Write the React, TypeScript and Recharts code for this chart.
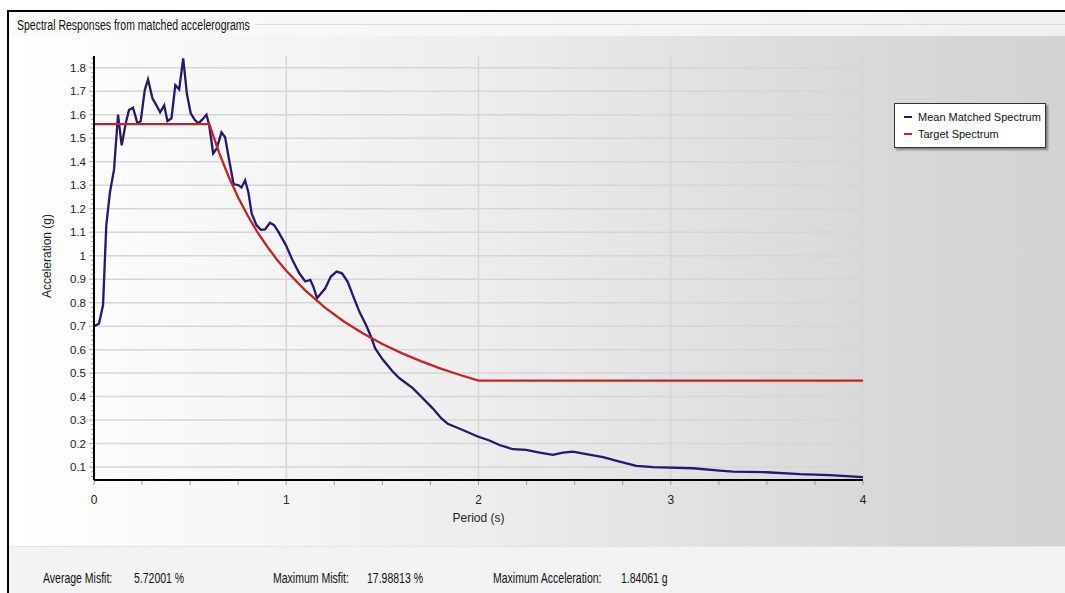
import { CartesianGrid, Legend, Line, LineChart, XAxis, YAxis } from "recharts";

// Mean matched spectrum
const matchedPeriods = [
  0, 0.026, 0.047, 0.064, 0.083, 0.104, 0.125, 0.144, 0.165, 0.182,
  0.203, 0.226, 0.243, 0.264, 0.281, 0.304, 0.325, 0.344, 0.365, 0.382,
  0.403, 0.423, 0.443, 0.464, 0.483, 0.503, 0.524, 0.543, 0.564, 0.585,
  0.599, 0.62, 0.639, 0.663, 0.682, 0.703, 0.726, 0.752, 0.767, 0.786,
  0.803, 0.82, 0.845, 0.868, 0.89, 0.915, 0.937, 0.96, 0.998, 1.033,
  1.068, 1.099, 1.125, 1.141, 1.16, 1.203, 1.232, 1.262, 1.29, 1.319,
  1.349, 1.38, 1.415, 1.441, 1.462, 1.5, 1.55, 1.589, 1.658, 1.71,
  1.762, 1.806, 1.84, 1.918, 1.996, 2.057, 2.109, 2.179, 2.248, 2.318,
  2.387, 2.439, 2.491, 2.561, 2.648, 2.734, 2.821, 2.908, 3.116, 3.255,
  3.325, 3.498, 3.672, 3.828, 4.0,
];
const matchedAccel = [
  0.7, 0.71, 0.79, 1.13, 1.27, 1.365, 1.6, 1.47, 1.563, 1.62,
  1.63, 1.563, 1.573, 1.705, 1.75, 1.67, 1.64, 1.61, 1.64, 1.573,
  1.585, 1.726, 1.708, 1.84, 1.69, 1.606, 1.578, 1.563, 1.58, 1.6,
  1.556, 1.435, 1.457, 1.525, 1.504, 1.407, 1.305, 1.3, 1.29, 1.32,
  1.27, 1.18, 1.13, 1.11, 1.112, 1.14, 1.13, 1.1, 1.045, 0.98,
  0.925, 0.89, 0.897, 0.868, 0.819, 0.861, 0.911, 0.932, 0.925, 0.89,
  0.826, 0.762, 0.705, 0.655, 0.606, 0.56, 0.51, 0.478, 0.436, 0.393,
  0.35, 0.308, 0.284, 0.258, 0.23, 0.213, 0.194, 0.176, 0.173, 0.162,
  0.152, 0.162, 0.166, 0.155, 0.142, 0.123, 0.105, 0.1, 0.095, 0.085,
  0.081, 0.078, 0.07, 0.066, 0.057,
];

// Target spectrum
const targetPeriods = [
  0, 0.6, 0.65, 0.7, 0.75, 0.8, 0.85, 0.9, 0.95, 1.0,
  1.1, 1.2, 1.3, 1.4, 1.5, 1.6, 1.7, 1.8, 1.9, 2.0, 4.0,
];
const targetAccel = [
  1.56, 1.56, 1.44, 1.337, 1.248, 1.17, 1.1, 1.04, 0.985, 0.936,
  0.851, 0.78, 0.72, 0.669, 0.624, 0.585, 0.551, 0.52, 0.493, 0.468, 0.468,
];

const seriesNames = ["Mean Matched Spectrum", "Target Spectrum"];
const xMajorTicks = [1, 2, 3, 4];
const yMajorTicks = [
  0.1, 0.2, 0.3, 0.4, 0.5, 0.6, 0.7, 0.8, 0.9, 1, 1.1, 1.2, 1.3, 1.4, 1.5,
  1.6, 1.7, 1.8,
];
const statLabels = ["Average Misfit:", "Maximum Misfit:", "Maximum Acceleration:"];
const statValues = ["5.72001 %", "17.98813 %", "1.84061 g"];

const BLUE = "#26176f";
const RED = "#c4232a";
const SANS = "'Liberation Sans', Arial, sans-serif";
const TICK_SIZE = 4;
const X_MARGIN = 11;
const Y_MARGIN = 4;

const matchedData = matchedPeriods.map((t, i) => ({ period: t, accel: matchedAccel[i] }));
const targetData = targetPeriods.map((t, i) => ({ period: t, accel: targetAccel[i] }));

const xTicks = Array.from({ length: 17 }, (_, i) => i * 0.25);
const yTicks = Array.from({ length: 90 }, (_, i) => Math.round((0.06 + i * 0.02) * 100) / 100);

const isTenth = (v: number) => Math.abs(v * 10 - Math.round(v * 10)) < 1e-6;

function XTick({ x, y, payload }: any) {
  const v = payload.value;
  const axisY = y - TICK_SIZE - X_MARGIN;
  const major = Number.isInteger(v);
  return (
    <g>
      <line x1={x} x2={x} y1={axisY + 1} y2={axisY + TICK_SIZE + 1} stroke="#9a9a9a" />
      {major && (
        <text x={x} y={y} dy="0.71em" textAnchor="middle" fontSize={12} fill="#222" fontFamily={SANS}>
          {v}
        </text>
      )}
    </g>
  );
}

function YTick({ x, y, payload }: any) {
  const v = payload.value;
  const axisX = x + TICK_SIZE + Y_MARGIN;
  const major = isTenth(v);
  return (
    <g>
      <line x1={axisX - 1} x2={axisX - (major ? 5 : 3)} y1={y} y2={y} stroke="#a5a5a5" />
      {major && (
        <text x={x} y={y} dy="0.355em" textAnchor="end" fontSize={11.5} fill="#222" fontFamily={SANS}>
          {String(Math.round(v * 10) / 10)}
        </text>
      )}
    </g>
  );
}

function LegendBox({ payload }: any) {
  return (
    <div
      style={{
        width: 152,
        height: 45,
        boxSizing: "border-box",
        background: "#fff",
        border: "1px solid #333",
        boxShadow: "2px 2px 2px rgba(0,0,0,0.4)",
        padding: "4px 0 0 9px",
        fontFamily: SANS,
        fontSize: 11,
        color: "#111",
        whiteSpace: "nowrap",
      }}
    >
      {(payload || []).map((p: any) => (
        <div key={p.value} style={{ display: "flex", alignItems: "center", height: 17 }}>
          <span style={{ width: 8, height: 2, background: p.color, marginRight: 6 }} />
          {p.value}
        </div>
      ))}
    </div>
  );
}

// narrow WinForms-like caption text
function Caption({ left, top, children }: any) {
  return (
    <div
      style={{
        position: "absolute",
        left,
        top,
        fontFamily: SANS,
        fontSize: 14,
        color: "#111",
        whiteSpace: "nowrap",
        transform: "scaleX(0.75)",
        transformOrigin: "left center",
      }}
    >
      {children}
    </div>
  );
}

export default function App() {
  return (
    <div style={{ position: "absolute", left: 0, top: 0, width: 1065, height: 593, background: "#fff", overflow: "hidden" }}>
      {/* frame */}
      <div style={{ position: "absolute", left: 7, top: 10, width: 1058, height: 583, borderLeft: "2px solid #000", borderTop: "2px solid #000", background: "#f3f3f3" }} />
      <div style={{ position: "absolute", left: 9, top: 12, width: 1056, height: 24, background: "linear-gradient(to right, #fbfbfb, #f0f0f0)" }} />
      <div style={{ position: "absolute", left: 255, top: 24, width: 810, height: 1, background: "#dcdcdc" }} />
      <Caption left={17} top={17}>Spectral Responses from matched accelerograms</Caption>

      {/* chart panel */}
      <div
        style={{
          position: "absolute",
          left: 9,
          top: 36,
          width: 1056,
          height: 510,
          background: "linear-gradient(to right, #ffffff 0%, #ededed 45%, #d9d9d9 80%, #d3d3d3 100%)",
        }}
      >
        <LineChart width={1056} height={510} margin={{ top: 20, right: 202, left: 0, bottom: 0 }}>
          <CartesianGrid
            horizontalValues={yMajorTicks}
            verticalValues={xMajorTicks}
            stroke="#d6d6d6"
            strokeWidth={1.5}
            fill="none"
          />
          <XAxis
            type="number"
            dataKey="period"
            domain={[0, 4]}
            ticks={xTicks}
            interval={0}
            height={66}
            tickSize={TICK_SIZE}
            tickMargin={X_MARGIN}
            tickLine={false}
            tick={<XTick />}
            axisLine={{ stroke: "#000", strokeWidth: 2 }}
            allowDataOverflow
            label={{ value: "Period (s)", position: "insideBottom", offset: 24, fontSize: 12, fill: "#222", fontFamily: SANS }}
          />
          <YAxis
            type="number"
            domain={[0.045, 1.85]}
            ticks={yTicks}
            interval={0}
            width={85}
            tickSize={TICK_SIZE}
            tickMargin={Y_MARGIN}
            tickLine={false}
            tick={<YTick />}
            axisLine={{ stroke: "#000", strokeWidth: 2 }}
            allowDataOverflow
            label={{
              value: "Acceleration (g)",
              angle: -90,
              position: "insideLeft",
              offset: 38,
              dy: -12,
              fontSize: 12,
              fill: "#222",
              fontFamily: SANS,
              style: { textAnchor: "middle" },
            }}
          />
          <Legend
            layout="vertical"
            align="center"
            verticalAlign="middle"
            wrapperStyle={{ left: 885, top: 67, width: 152 }}
            content={<LegendBox />}
          />
          <Line
            data={matchedData}
            dataKey="accel"
            name={seriesNames[0]}
            type="linear"
            stroke={BLUE}
            strokeWidth={2.3}
            dot={false}
            isAnimationActive={false}
          />
          <Line
            data={targetData}
            dataKey="accel"
            name={seriesNames[1]}
            type="linear"
            stroke={RED}
            strokeWidth={2.3}
            dot={false}
            isAnimationActive={false}
          />
        </LineChart>
      </div>

      {/* stats strip */}
      <div style={{ position: "absolute", left: 9, top: 546, width: 1056, height: 1, background: "#e4e4e4" }} />
      {statLabels.map((label, i) => (
        <Caption key={label} left={[43, 273, 493][i]} top={570}>
          {label}
        </Caption>
      ))}
      {statValues.map((val, i) => (
        <Caption key={val} left={[134, 367, 621][i]} top={570}>
          {val}
        </Caption>
      ))}
    </div>
  );
}
